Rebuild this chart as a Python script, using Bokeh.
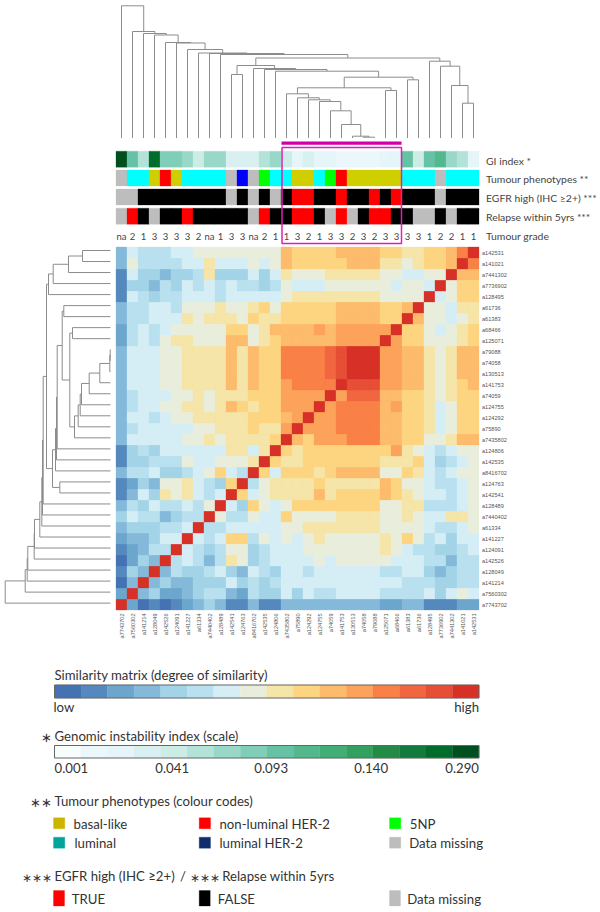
from bokeh.plotting import figure
from bokeh.models import ColumnDataSource, Range1d
from bokeh.core.properties import value
from bokeh.embed import file_html
from bokeh.resources import INLINE

# ---------- data ----------
samples = ["a7743702","a7560302","a141214","a128049","a142526","a124091","a141227","a61334","a7440402","a128489",
           "a142541","a124763","a8416702","a142535","a124806","a7435802","a75890","a124292","a124755","a74059",
           "a141753","a130513","a74058","a79088","a125071","a68466","a61383","a61736","a128495","a7736902",
           "a7441302","a141021","a142531"]

# similarity levels: index = row (a7743702 first), value list = left-to-right columns
sim_levels = [
 [15,2,0,1,0,1,2,3,4,3,1,1,3,1,1,3,3,3,3,3,3,3,3,3,2,2,3,3,1,1,1,2,2],
 [2,15,3,4,2,2,3,4,5,5,3,2,5,4,4,6,4,6,5,5,6,6,6,6,5,5,5,5,6,4,6,7,6],
 [0,3,15,3,4,3,3,4,4,4,6,4,5,4,5,6,6,6,6,6,6,6,6,6,6,6,5,5,5,4,4,5,5],
 [1,4,3,15,3,5,4,4,5,6,4,3,6,5,4,6,6,5,6,6,6,6,6,6,5,5,6,6,4,3,4,5,5],
 [0,2,4,3,15,5,6,5,3,5,8,7,4,5,6,6,6,6,7,6,7,7,7,7,7,6,6,6,5,5,3,5,5],
 [1,2,3,5,5,15,6,5,4,5,7,7,4,5,6,6,6,7,7,7,7,7,7,7,8,7,6,5,5,4,4,5,6],
 [2,3,3,4,6,6,15,6,5,6,9,9,5,7,6,7,6,7,8,7,7,7,7,7,8,7,9,7,5,6,4,6,6],
 [3,4,4,4,5,5,6,15,5,5,6,6,6,6,6,7,7,8,8,8,8,8,8,8,7,7,7,7,6,5,5,6,7],
 [4,6,5,5,3,4,5,5,15,7,5,5,7,6,6,9,7,7,7,7,8,8,8,8,7,7,8,7,6,6,8,8,7],
 [3,5,4,6,5,5,6,5,7,15,6,4,9,7,6,7,9,9,9,9,9,9,9,9,7,7,8,8,5,5,5,6,7],
 [1,3,6,4,8,7,8,6,5,6,15,9,6,7,8,8,8,8,10,8,9,9,9,9,10,9,8,7,6,6,5,6,7],
 [1,2,4,3,7,7,8,6,5,4,9,15,5,7,8,8,8,8,9,8,8,8,8,8,10,9,7,7,6,5,5,6,7],
 [3,5,5,6,4,4,5,6,7,9,6,5,15,9,6,9,9,9,8,9,10,10,10,10,7,7,9,8,6,5,6,7,7],
 [1,4,4,5,5,5,7,6,6,7,7,7,8,15,9,8,8,9,9,9,9,9,9,9,8,8,8,9,6,4,5,6,7],
 [1,4,5,4,6,6,6,6,6,6,8,8,6,8,15,9,8,9,9,9,9,9,9,9,9,11,8,7,6,5,6,7,7],
 [3,6,6,6,6,6,7,7,8,7,8,8,8,8,9,15,10,9,11,11,11,12,12,12,10,10,9,9,7,7,8,10,10],
 [3,5,6,6,6,6,6,7,7,8,8,8,9,8,8,11,15,11,11,11,12,12,12,12,10,10,9,9,8,6,7,9,9],
 [3,6,6,5,6,7,7,8,8,8,8,8,9,9,9,10,11,15,11,11,12,12,12,12,10,10,9,9,8,6,7,9,9],
 [3,5,6,6,7,7,8,8,7,8,10,9,8,9,9,11,11,11,15,11,12,12,12,12,10,11,9,9,8,6,7,9,9],
 [3,5,6,6,6,7,7,8,7,8,8,8,9,9,9,11,11,11,11,15,11,13,13,13,10,10,9,9,8,7,8,9,9],
 [3,6,6,6,7,7,8,8,8,8,10,8,10,9,9,11,12,12,12,12,15,14,14,14,11,11,10,10,8,7,8,9,10],
 [3,6,6,6,7,7,8,8,8,8,10,8,10,9,9,12,12,12,12,13,14,15,15,15,11,11,10,10,8,7,8,10,10],
 [3,6,6,6,7,7,8,8,8,8,10,8,10,9,9,12,12,12,12,13,14,15,15,15,11,11,10,10,8,7,8,10,10],
 [3,6,6,6,7,7,8,8,8,8,10,8,10,9,9,12,12,12,12,13,14,15,15,15,11,11,10,10,8,7,8,10,10],
 [2,5,6,5,7,8,8,7,7,7,10,10,7,8,9,10,10,10,10,10,11,11,11,11,15,11,9,9,7,7,7,8,9],
 [2,5,6,5,6,7,7,7,7,7,9,9,7,8,10,10,10,10,11,10,11,11,11,11,11,15,9,9,7,6,7,8,9],
 [3,5,5,6,6,6,8,7,8,8,8,7,9,8,8,9,9,9,9,9,10,10,10,10,9,9,15,10,7,7,6,7,8],
 [3,5,5,6,6,5,7,7,7,8,7,7,8,9,7,9,9,9,9,9,10,10,10,10,9,9,10,15,7,7,6,8,8],
 [1,6,5,4,5,5,6,6,6,5,6,6,6,6,6,7,8,8,8,8,8,8,8,8,7,7,7,7,15,6,7,9,9],
 [1,4,4,3,5,4,6,5,6,5,6,5,5,4,5,7,6,6,6,7,7,7,7,7,7,6,7,7,6,15,7,9,9],
 [1,6,4,4,3,4,4,5,8,4,4,4,6,4,6,8,7,7,7,8,8,8,8,8,7,7,6,6,7,7,15,10,10],
 [3,7,5,5,5,5,6,6,8,6,6,6,7,6,7,10,9,9,9,9,9,10,10,10,8,8,7,8,9,9,10,15,12],
 [3,6,5,5,5,6,6,7,7,7,7,7,7,7,7,10,9,9,9,9,10,10,10,10,9,9,8,8,9,9,10,12,15],
]
sim_palette = ["#4472B2","#5589BE","#6CA6CD","#85B9DA","#A3D3E6","#B9E0EE","#D5EEF6","#E9EEDC",
               "#F5E5A8","#FDD580","#FDBB6C","#FDA25A","#F98046","#F16640","#E64E35","#D73027"]
gi_palette = ["#F7FCFD","#EBF7FA","#E5F5F9","#D8F0F0","#CCECE6","#B3E2D8","#99D8C9","#80CEB7",
              "#66C2A4","#54B88F","#41AE76","#33A060","#238B45","#117A3C","#006D2C","#00501F"]

gi_index = [15,8,5,14,7,7,6,4,6,6,3,3,3,5,6,4,2,3,2,2,1,1,1,1,2,2,8,4,8,9,6,5,2]
phenotype = list("GCCOROCCCCGBGLCCOOCLROOOOOCCCGCCC")
egfr    = list("MMFFFFFFFFMFMFMFTTFFTFFTFTFFFMFFF")
relapse = list("MTFMFFTFFFFFMTFFTTFMTMFTTFFMMFMFF")
grade = ["na","2","1","3","3","3","3","2","na","1","3","3","na","2","1",
         "1","3","2","1","3","3","2","3","2","3","3","3","3","1","2","2","1","1"]
pheno_color = {"G":"#BDBDBD","C":"#00FFFF","O":"#CFCF00","R":"#FF0000","B":"#0000FF","L":"#00FF00"}
bool_color = {"T":"#FF0000","F":"#000000","M":"#BDBDBD"}

# hclust-style merges: negative = leaf (1-based), positive = earlier merge (1-based), plus its height
col_merge_a = [-23,-22,-21,-20,-19,-18,-17,-16,-25,8,-27,10,-15,-14,-13,-11,16,-32,-31,-30,-29,17,-10,-9,-8,-7,-6,-5,-4,-3,-2,-1]
col_merge_b = [-24,1,2,3,4,5,6,7,-26,9,-28,11,12,13,14,-12,15,-33,18,19,20,21,22,23,24,25,26,27,28,29,30,31]
col_height  = [0.8,1.8,13.5,27.2,36.5,38.2,40.2,44.2,47.5,50.2,58.2,60.8,66.8,68.5,69.5,63.5,72.5,34.8,52.5,71.8,76.8,80,83.5,84.5,85,88.5,95,95.5,103,104.5,106.5,132.2]

# row tree (leaves numbered from the top row = 1)
row_merge_a = [-1,1,2,3,-6,-8,-10,7,8,9,10,11,12,13,6,5,16,17,18,-22,19,4,22,23,24,25,26,27,28,29,30,31]
row_merge_b = [-2,-3,-4,-5,-7,-9,-11,-12,-13,-14,-15,-16,-17,-18,14,15,-19,-20,-21,-23,20,21,-24,-25,-26,-27,-28,-29,-30,-31,-32,-33]
row_height  = [28,42,57.3,62,46.7,38,0.3,0.7,10.7,21.3,29,30.3,32.3,36,40.7,48.3,53.3,54,55,50.7,58,64,67.3,68,68.7,70.7,76,76.3,82.7,83.3,85.3,105.3]

sim_bar_levels = list(range(16))
gi_bar_levels = list(range(16))
gi_ticks = ["0.001","0.041","0.093","0.140","0.290"]
legend_pheno = [("basal-like","#CCB400"),("non-luminal HER-2","#FF0000"),("5NP","#00FF00"),
                ("luminal","#00A59A"),("luminal HER-2","#0F2E6E"),("Data missing","#BDBDBD")]
legend_bool = [("TRUE","#FF0000"),("FALSE","#000000"),("Data missing","#BDBDBD")]

# ---------- layout ----------
X0, CELL, Y0 = 115.5, 11.0, 246.5
N = len(samples)
TOP_BASE, LEFT_BASE = 137.5, 110.0
LEAF_Y0, LEAF_DY = 250.0, 11.02
FS = 13.2

p = figure(width=600, height=912, x_range=Range1d(0, 600), y_range=Range1d(912, 0),
           output_backend="svg", toolbar_location=None, min_border=0,
           x_axis_type=None, y_axis_type=None, outline_line_color=None,
           styles={"position": "absolute", "left": "0px", "top": "0px"})
p.grid.visible = False

def cells(left, right, top, bottom, colors):
    p.quad(left=left, right=right, top=top, bottom=bottom, fill_color=colors, line_color=colors, line_width=0.3)

def label(xs, ys, texts, size, color="#333333", align="left", font="Lato", angle=0.0):
    src = ColumnDataSource(dict(x=xs, y=ys, t=texts))
    p.text("x", "y", "t", source=src, text_font=value(font), text_font_size=value(f"{size}px"),
           text_color=color, text_align=align, text_baseline="middle", angle=angle)

# heatmap
l, r, t, b, c = [], [], [], [], []
for i, row in enumerate(sim_levels):
    for j, v in enumerate(row):
        l.append(X0 + j * CELL); r.append(X0 + (j + 1) * CELL)
        t.append(Y0 + (N - 1 - i) * CELL); b.append(Y0 + (N - i) * CELL)
        c.append(sim_palette[v])
cells(l, r, t, b, c)

# annotation tracks
lefts = [X0 + j * CELL for j in range(N)]
rights = [X0 + (j + 1) * CELL for j in range(N)]
cells(lefts, rights, [150.7] * N, [166.7] * N, [gi_palette[v] for v in gi_index])
cells(lefts, rights, [169.5] * N, [185.5] * N, [pheno_color[v] for v in phenotype])
cells(lefts, rights, [188.5] * N, [204.5] * N, [bool_color[v] for v in egfr])
cells(lefts, rights, [207.7] * N, [223.7] * N, [bool_color[v] for v in relapse])
centers = [X0 + (j + 0.5) * CELL for j in range(N)]
label(centers, [235.5] * N, grade, 9.5, color="#444444", align="center")

track_names = ["GI index *", "Tumour phenotypes **", "EGFR high (IHC ≥2+) ***", "Relapse within 5yrs ***", "Tumour grade"]
label([485.5] * 5, [160, 178, 197, 216, 235.5], track_names, 10.4, color="#444444")

# row and column labels
row_y = [Y0 + (N - 1 - i + 0.5) * CELL for i in range(N)]
label([481.5] * N, row_y, samples, 5.6, color="#555555", font="Liberation Sans")
label(centers, [613.0] * N, samples, 5.6, color="#555555", font="Liberation Sans", align="right", angle=1.5708)

# dendrograms
def dendro(merge_a, merge_b, heights, leaf_pos, to_xy):
    pos, h = {}, {}
    xs, ys = [], []
    def get(n):
        return (leaf_pos(-n - 1), 0.0) if n < 0 else (pos[n], h[n])
    for k, (a, bb, ht) in enumerate(zip(merge_a, merge_b, heights), 1):
        pa, ha = get(a); pb, hb = get(bb)
        pts = [to_xy(pa, ha), to_xy(pa, ht), to_xy(pb, ht), to_xy(pb, hb)]
        xs.append([q[0] for q in pts]); ys.append([q[1] for q in pts])
        pos[k] = (pa + pb) / 2; h[k] = ht
    p.multi_line(xs, ys, line_color="#8C8C8C", line_width=1.0)

dendro(col_merge_a, col_merge_b, col_height, lambda i: X0 + (i + 0.5) * CELL, lambda a, ht: (a, TOP_BASE - ht))
dendro(row_merge_a, row_merge_b, row_height, lambda i: LEAF_Y0 + i * LEAF_DY, lambda a, ht: (LEFT_BASE - ht, a))

# highlight bar and box
p.quad(left=[281], right=[401], top=[141], bottom=[144.3], fill_color="#D000A8", line_color=None)
p.quad(left=[281.5], right=[401], top=[147], bottom=[243], fill_color=None, line_color="#E020B0", line_width=1.5)

# colour bars
def bar(palette, levels, top, bottom):
    x0, x1 = 54.0, 478.5
    w = (x1 - x0) / len(levels)
    cells([x0 + i * w for i in levels], [x0 + (i + 1) * w for i in levels],
          [top] * len(levels), [bottom] * len(levels), [palette[i] for i in levels])
    p.quad(left=[x0], right=[x1], top=[top], bottom=[bottom], fill_color=None, line_color="#666666", line_width=1)

label([54], [674], ["Similarity matrix (degree of similarity)"], FS)
bar(sim_palette, sim_bar_levels, 684.5, 697.5)
label([53], [706.5], ["low"], FS)
label([478.5], [706.5], ["high"], FS, align="right")

label([54], [735.5], ["Genomic instability index (scale)"], FS)
label([51], [736.5], ["∗"], 13, align="right")
bar(gi_palette, gi_bar_levels, 745, 757.5)
label([54], [767.5], [gi_ticks[0]], FS)
label([171.7, 270.7, 370.7], [767.5] * 3, gi_ticks[1:4], FS, align="center")
label([478.5], [767.5], [gi_ticks[4]], FS, align="right")

label([54], [800.5], ["Tumour phenotypes (colour codes)"], FS)
label([51], [801.5], ["∗∗"], 13, align="right")
sx = [53.0, 198.7, 389.0, 53.0, 198.7, 389.0]
sy = [817.3, 817.3, 817.3, 836.7, 836.7, 836.7]
cells(sx, [a + 11.3 for a in sx], sy, [a + 11 for a in sy], [q[1] for q in legend_pheno])
label([73, 219, 409.3, 74, 219, 408.7], [823.7, 823.7, 823.7, 842.7, 842.7, 842.7], [q[0] for q in legend_pheno], FS)

label([54], [875.5], ["EGFR high (IHC ≥2+)"], FS)
label([51], [876.5], ["∗∗∗"], 12, align="right")
label([179.5], [875.5], ["/"], FS)
label([219], [876.5], ["∗∗∗"], 12, align="right")
label([221.7], [875.5], ["Relapse within 5yrs"], FS)
bx = [53.0, 198.7, 389.0]
cells(bx, [a + 11 for a in bx], [890] * 3, [905.5] * 3, [q[1] for q in legend_bool])
label([71.3, 217.3, 406.7], [898] * 3, [q[0] for q in legend_bool], FS)

open("out.html", "w").write(file_html(p, INLINE))
